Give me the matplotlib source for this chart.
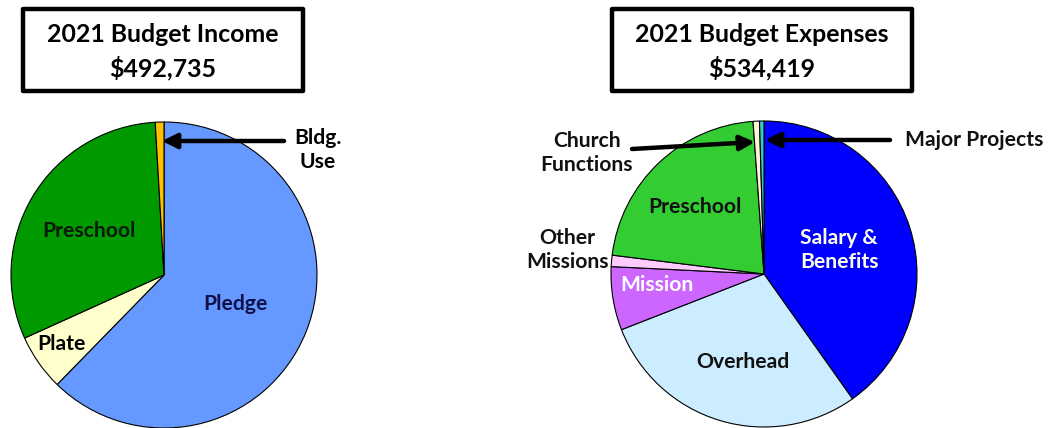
import matplotlib.pyplot as plt
from matplotlib.patches import Rectangle

# income pie
inc_labels = ['Pledge', 'Plate', 'Preschool', 'Bldg.\nUse']
inc_values = [307000, 29200, 152000, 4500]
inc_colors = ['#6699FF', '#FFFFCC', '#009900', '#FFC000']
inc_title = '2021 Budget Income\n$492,735'

# expenses pie
exp_labels = ['Salary &\nBenefits', 'Overhead', 'Mission', 'Other\nMissions',
              'Preschool', 'Church\nFunctions', 'Major Projects']
exp_values = [214800, 154400, 35800, 6400, 117000, 3600, 2500]
exp_colors = ['#0000FF', '#CCECFF', '#CC66FF', '#FFCCFF',
              '#33CC33', '#FFF5D6', '#33CCCC']
exp_title = '2021 Budget Expenses\n$534,419'

W, H = 1048, 428
R = 153
FONT = 'Lato'

fig = plt.figure(figsize=(W / 100, H / 100), dpi=100)


def pie_axes(cx, cy):
    half = 1.2 * R
    ax = fig.add_axes([(cx - half) / W, 1 - (cy + half) / H, 2 * half / W, 2 * half / H])
    return ax


def fix_limits(ax):
    # pie() resets the limits, so set them afterwards
    ax.set_xlim(-1.2, 1.2)
    ax.set_ylim(-1.2, 1.2)
    ax.set_aspect('equal')
    ax.axis('off')


def d(px, py, cx, cy):
    # pixel position -> pie data coords
    return ((px - cx) / R, (cy - py) / R)


def title_box(x0, x1, y0, y1, text):
    rect = Rectangle((x0 / W, 1 - y1 / H), (x1 - x0) / W, (y1 - y0) / H,
                     transform=fig.transFigure, fill=False, lw=3.2,
                     ec='black', joinstyle='round')
    fig.add_artist(rect)
    fig.text((x0 + x1) / 2 / W, 1 - (y0 + y1) / 2 / H - 0.004, text, ha='center', va='center',
             fontsize=17.9, fontweight='bold', family=FONT, linespacing=1.45)


def arrow(ax, tail, tip):
    ax.annotate('', xy=tip, xytext=tail,
                arrowprops=dict(arrowstyle='-|>', lw=3.2, color='black',
                                mutation_scale=22, shrinkA=0, shrinkB=0))


lab = dict(fontsize=15.2, fontweight='bold', family=FONT, ha='center', va='center')

# left pie
cx, cy = 164, 275
ax1 = pie_axes(cx, cy)
ax1.pie(inc_values, colors=inc_colors, startangle=90, counterclock=False, radius=1,
        wedgeprops=dict(edgecolor='black', linewidth=0.8))
fix_limits(ax1)
ax1.text(*d(235, 304, cx, cy), inc_labels[0], color='#10104A', **lab)
ax1.text(*d(61, 344, cx, cy), inc_labels[1], color='black', **lab)
ax1.text(*d(89, 231, cx, cy), inc_labels[2], color='#0A1A0A', **lab)
ax1.text(*d(318, 150, cx, cy), inc_labels[3], color='black', linespacing=1.25, **lab)
arrow(ax1, d(284, 141, cx, cy), d(162, 141, cx, cy))
title_box(23, 303, 9, 91, inc_title)

# right pie
cx, cy = 764, 274
ax2 = pie_axes(cx, cy)
ax2.pie(exp_values, colors=exp_colors, startangle=90, counterclock=False, radius=1,
        wedgeprops=dict(edgecolor='black', linewidth=0.8))
fix_limits(ax2)
ax2.text(*d(839, 250, cx, cy), exp_labels[0], color='#FFFFE6', linespacing=1.25, **lab)
ax2.text(*d(743, 362, cx, cy), exp_labels[1], color='#111111', **lab)
ax2.text(*d(657, 285, cx, cy), exp_labels[2], color='white', **lab)
ax2.text(*d(567, 250, cx, cy), exp_labels[3], color='#111111', linespacing=1.25, **lab)
ax2.text(*d(695, 207, cx, cy), exp_labels[4], color='#111111', **lab)
ax2.text(*d(587, 153, cx, cy), exp_labels[5], color='#111111', linespacing=1.25, **lab)
ax2.text(*d(974, 140, cx, cy), exp_labels[6], color='#111111', **lab)
arrow(ax2, d(632, 149, cx, cy), d(755, 142, cx, cy))
arrow(ax2, d(890, 140, cx, cy), d(765, 140, cx, cy))
title_box(612, 912, 9, 91, exp_title)

fig.savefig('out.png', dpi=100)
